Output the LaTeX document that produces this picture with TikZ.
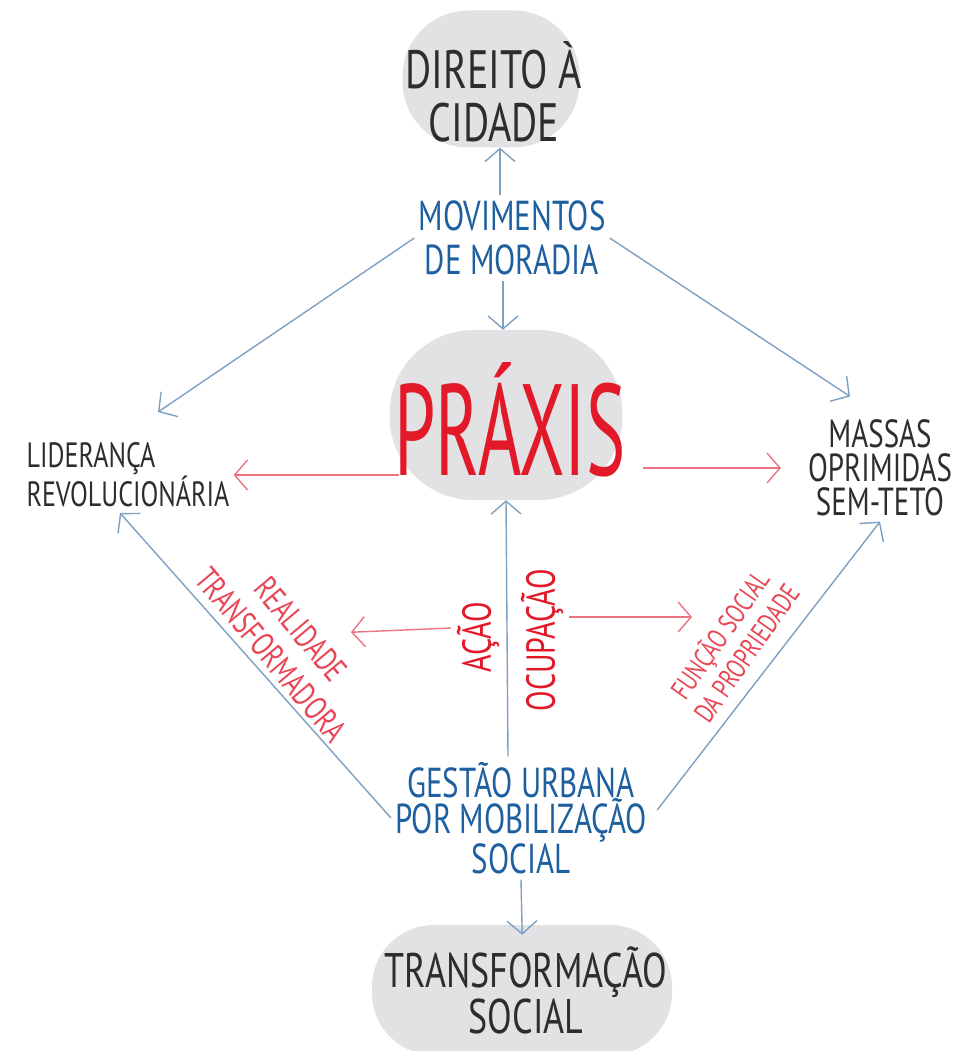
\documentclass[tikz,border=0pt]{standalone}
\usepackage{fontspec}
\setmainfont{PT Sans}
\usetikzlibrary{arrows.meta}
\usepackage{xcolor}
\definecolor{inkdark}{RGB}{45,45,45}
\definecolor{inkblue}{RGB}{30,95,160}
\definecolor{inkred}{RGB}{225,25,40}
\definecolor{inkpink}{RGB}{232,70,85}
\definecolor{linkblue}{RGB}{125,160,195}
\definecolor{linkred}{RGB}{238,115,130}
\definecolor{blobgray}{RGB}{226,226,228}

\begin{document}
\begin{tikzpicture}[x=1pt,y=-1pt,
					blob/.style={fill=blobgray, rectangle, inner sep=0pt},
					hand/.style={yscale=1.35, inner sep=4pt, align=center},
					bluelink/.style={draw=linkblue, line width=1.4pt, -{Straight Barb[length=13pt,width=30pt]}},
					redlink/.style={draw=linkred, line width=1.4pt, -{Straight Barb[length=13pt,width=30pt]}}]
    \useasboundingbox (0,0) rectangle (966,1051);
    % Place nodes
    \node [blob, minimum width=177pt, minimum height=137pt, rounded corners=66pt] (cidadeblob) at (491,79) {};
    \node [blob, minimum width=233pt, minimum height=170pt, rounded corners=84pt] (praxisblob) at (506,415) {};
    \node [blob, minimum width=300pt, minimum height=130pt, rounded corners=62pt] (transfblob) at (522,990) {};

    \node [hand, text=inkdark, font=\fontsize{40}{39}\selectfont] (cidade) at (494,92) {DIREITO À\\CIDADE};
    \node [hand, text=inkblue, font=\fontsize{31}{33}\selectfont] (mov) at (512,238) {MOVIMENTOS\\DE MORADIA};
    \node [hand, yscale=1.3, text=inkred, font=\fontsize{74}{74}\selectfont] (praxis) at (510,420) {PRÁXIS};
    \node [hand, align=left, text=inkdark, font=\fontsize{26}{22}\selectfont] (lider) at (128,475) {LIDERANÇA\\REVOLUCIONÁRIA};
    \node [hand, text=inkdark, font=\fontsize{29}{25}\selectfont] (massas) at (880,468) {MASSAS\\OPRIMIDAS\\SEM-TETO};
    \node [hand, text=inkblue, font=\fontsize{31}{27}\selectfont] (gestao) at (521,818) {GESTÃO URBANA\\POR MOBILIZAÇÃO\\SOCIAL};
    \node [hand, text=inkdark, font=\fontsize{36}{34}\selectfont] (transf) at (526,990) {TRANSFORMAÇÃO\\SOCIAL};

    \node [rotate=90, hand, text=inkred, font=\fontsize{30}{30}\selectfont] (acao) at (478,637) {AÇÃO};
    \node [rotate=90, hand, text=inkred, font=\fontsize{30}{30}\selectfont] (ocup) at (542,640) {OCUPAÇÃO};
    \node [rotate=-50, hand, text=inkpink, font=\fontsize{25}{29}\selectfont] (realidade) at (286,642) {REALIDADE\\TRANSFORMADORA};
    \node [rotate=55, hand, text=inkpink, font=\fontsize{21}{24}\selectfont] (funcao) at (732,643) {FUNÇÃO SOCIAL\\DA PROPRIEDADE};

    % Draw edges
    \draw [bluelink] ([xshift=-12pt]mov.north) -- ([xshift=9pt]cidadeblob.south);
    \draw [bluelink] ([xshift=-9pt]mov.south) -- ([xshift=-3pt]praxisblob.north);
    \draw [bluelink] (mov.west) -- ([xshift=30pt,yshift=25pt]lider.north);
    \draw [bluelink] (mov.east) -- ([xshift=-30pt,yshift=18pt]massas.north);
    \draw [redlink, shorten <=-10pt] (praxisblob.west |- lider.east) -- (lider.east);
    \draw [redlink, shorten <=20pt, shorten >=23pt] (praxisblob.east |- massas.west) -- (massas.west);
    \draw [bluelink] (gestao.west) -- ([xshift=-8pt]lider.south);
    \draw [bluelink, shorten <=10pt] (gestao.east) -- (massas.south);
    \draw [bluelink] ([xshift=-13pt]gestao.north) -- (praxisblob.south);
    \draw [bluelink, shorten >=-10pt] (gestao.south) -- (transfblob.north);
    \draw [redlink, shorten >=65pt] ([yshift=9pt]acao.north) -- ([yshift=7pt]realidade.center);
    \draw [redlink, shorten >=40pt] ([yshift=23pt]ocup.south) -- ([yshift=26pt]funcao.center);
\end{tikzpicture}
\end{document}
